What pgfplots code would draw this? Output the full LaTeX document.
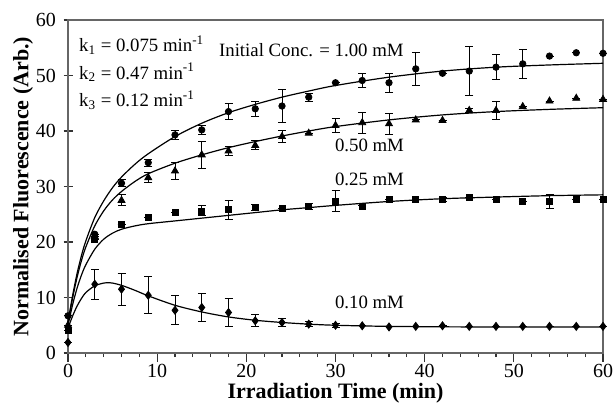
\documentclass[border=0pt]{standalone}
\usepackage{fontspec}
\setmainfont{Liberation Serif}
\usepackage{pgfplots}
\usepackage{pgfplotstable}
\pgfplotsset{compat=1.18}
\usetikzlibrary{calc}

% t, mean, error  (1.00 mM)
\pgfplotstableread{
t y e
0 6.7 0
3 21.4 0
6 30.6 0.6
9 34.3 0.65
12 39.3 0.85
15 40.2 0.8
18 43.5 1.4
21 44.0 1.3
24 44.5 2.9
27 46.1 0.7
30 48.7 0
33 49.1 1.3
36 48.7 1.7
39 51.2 3.0
42 50.4 0
45 50.8 4.4
48 51.5 2.3
51 52.1 2.6
54 53.5 0
57 54.1 0
60 54.0 0
}\cA
% 0.50 mM
\pgfplotstableread{
t y e
0 5.0 0
3 21.0 0
6 27.5 1.0
9 31.6 0.85
12 32.8 1.5
15 35.7 2.4
18 36.4 0.8
21 37.4 0.8
24 39.0 1.1
27 39.6 0
30 41.0 1.2
33 41.5 1.9
36 41.3 1.9
39 42.0 0
42 41.9 0
45 43.7 0.4
48 43.7 1.65
51 44.4 0
54 45.4 0
57 45.9 0
60 45.7 0
}\cB
% 0.25 mM
\pgfplotstableread{
t y e
0 4.0 0
3 20.5 0
6 23.1 0
9 24.5 0
12 25.3 0
15 25.6 0.9
18 25.8 1.7
21 26.2 0.6
24 26.1 0
27 26.4 0.6
30 27.4 1.9
33 26.5 0
36 27.6 0
39 27.6 0
42 27.7 0.4
45 28.0 0
48 27.7 0
51 27.3 0
54 27.3 1.2
57 27.7 0
60 27.7 0
}\cC
% 0.10 mM
\pgfplotstableread{
t y e
0 1.9 0
3 12.4 2.7
6 11.5 2.9
9 10.4 3.3
12 7.7 2.6
15 8.2 2.6
18 7.3 2.5
21 5.8 1.1
24 5.5 0.8
27 5.2 0.5
30 5.0 0.4
33 4.9 0
36 4.7 0
39 4.8 0
42 4.9 0
45 4.8 0
48 4.8 0
51 4.8 0
54 4.8 0
57 4.8 0
60 4.8 0
}\cD

\begin{document}
\begin{tikzpicture}
\begin{axis}[
    name=ax,
    scale only axis,
    width=267.5bp, height=166.5bp,
    xmin=0, xmax=60, ymin=0, ymax=60,
    xtick={0,10,...,60}, ytick={0,10,...,60},
    minor x tick num=4,
    xtick pos=bottom, ytick pos=left,
    tick align=outside,
    major tick length=4.5bp, minor tick length=2bp,
    y tick style={xshift=2.25bp},
    yticklabel style={xshift=2bp},
    xticklabel style={inner sep=1bp},
    axis line style={black!60, line width=0.6bp},
    tick style={black!80, line width=0.6bp},
    ticklabel style={font=\fontsize{10bp}{12bp}\selectfont},
    /pgf/number format/assume math mode=true,
    xlabel={Irradiation Time (min)},
    ylabel={Normalised Fluorescence (Arb.)},
    label style={font=\bfseries\fontsize{11bp}{13bp}\selectfont},
    xlabel style={at={(axis description cs:0.5,-0.122)}, anchor=center, inner sep=1bp},
    ylabel style={at={(axis description cs:-0.084,0.5)}, anchor=center},
    clip=false,
    every axis plot/.append style={black},
    errb/.style={draw=none, mark=none, forget plot,
        error bars/.cd, y dir=both, y explicit,
        error bar style={black, line width=0.5bp},
        error mark options={black, rotate=90, mark size=2bp, line width=0.5bp}},
]
% fitted curves
\addplot[smooth, line width=0.6bp] coordinates {
(0,5.5) (0.5,10.2) (1,14.2) (1.5,17.5) (2,20.2) (3,24.4) (4,27.4) (5,29.8) (6,31.7)
(7.5,34.0) (9,35.9) (12,39.0) (15,41.4) (18,43.3) (21,44.8) (24,46.1) (27,47.2)
(30,48.2) (36,49.7) (42,50.8) (48,51.5) (54,51.9) (60,52.2)};
\addplot[smooth, line width=0.6bp] coordinates {
(0,5.5) (0.5,9.8) (1,13.5) (1.5,16.6) (2,19.1) (3,22.9) (4,25.6) (5,27.6) (6,29.1)
(7.5,30.9) (9,32.3) (12,34.2) (15,35.7) (18,37.0) (21,38.1) (24,39.1) (27,40.0)
(30,40.8) (36,42.0) (42,42.9) (48,43.5) (54,43.9) (60,44.2)};
\addplot[smooth, line width=0.6bp] coordinates {
(0,5) (0.5,8.6) (1,11.6) (1.5,14.0) (2,15.9) (3,18.7) (4,20.5) (5,21.6) (6,22.3)
(7.5,22.9) (9,23.3) (12,23.8) (15,24.3) (18,24.8) (21,25.3) (24,25.8) (27,26.2)
(30,26.6) (36,27.3) (42,27.8) (48,28.1) (54,28.35) (60,28.5)};
\addplot[smooth, line width=0.6bp] coordinates {
(0,4.5) (0.5,6.6) (1,8.4) (1.5,9.8) (2,10.9) (3,12.1) (4,12.6) (4.5,12.65) (5,12.6)
(6,12.2) (7.5,11.3) (9,10.3) (12,8.6) (15,7.4) (18,6.5) (21,5.9) (24,5.5) (27,5.2)
(30,5.0) (36,4.8) (45,4.7) (60,4.7)};
% error bars
\addplot[errb] table[x=t, y=y, y error=e] {\cA};
\addplot[errb] table[x=t, y=y, y error=e] {\cB};
\addplot[errb] table[x=t, y=y, y error=e] {\cC};
\addplot[errb] table[x=t, y=y, y error=e] {\cD};
% data points
\addplot[only marks, mark=square*, mark size=1.5bp] table[x=t, y=y] {\cC};
\addplot[only marks, mark=triangle*, mark size=2bp] table[x=t, y=y] {\cB};
\addplot[only marks, mark=*, mark size=1.6bp] table[x=t, y=y] {\cA};
\addplot[only marks, mark=diamond*, mark size=2bp] table[x=t, y=y] {\cD};
% annotations
\begin{scope}[every node/.style={inner sep=0pt, anchor=west, font=\fontsize{9.4bp}{11bp}\selectfont}]
\node at (axis cs:1.2,55.5) {k\textsubscript{1} = 0.075 min\textsuperscript{-1}};
\node at (axis cs:1.2,50.6) {k\textsubscript{2} = 0.47 min\textsuperscript{-1}};
\node at (axis cs:1.2,45.6) {k\textsubscript{3} = 0.12 min\textsuperscript{-1}};
\node at (axis cs:16.9,54.6) {Initial Conc. = 1.00 mM};
\node at (axis cs:29.9,37.5) {0.50 mM};
\node at (axis cs:29.9,31.2) {0.25 mM};
\node at (axis cs:29.9,9.1) {0.10 mM};
\end{scope}
\end{axis}
\pgfresetboundingbox
\path ($(ax.south west)+(-34bp,-25bp)$) rectangle ($(ax.north east)+(5bp,10bp)$);
\end{tikzpicture}
\end{document}
